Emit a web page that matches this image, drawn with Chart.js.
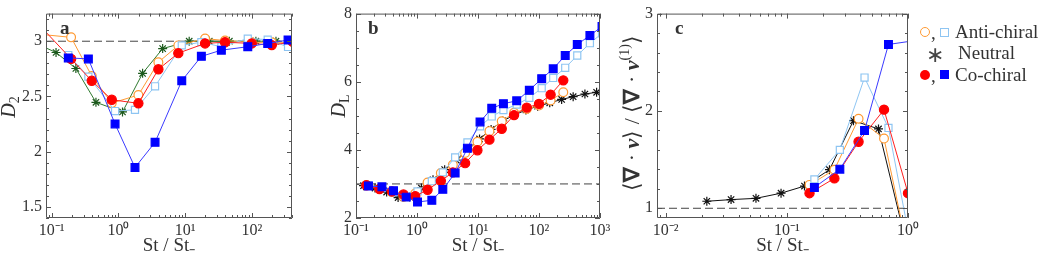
<!DOCTYPE html>
<html>
<head>
<meta charset="utf-8">
<script src="https://cdn.jsdelivr.net/npm/chart.js@4.4.0/dist/chart.umd.min.js"></script>
<style>
  html, body { margin: 0; padding: 0; background: #fff; }
  #wrap { position: relative; width: 1046px; height: 259px; overflow: hidden; }
  #wrap canvas { position: absolute; left: 0; top: 0; }
  .lg { position: absolute; font-family: 'Liberation Serif', serif; font-size: 19px; color: #333; line-height: 20px; white-space: nowrap; }
  .mk { position: absolute; box-sizing: border-box; }
</style>
</head>
<body>
<div id="wrap">
  <canvas id="chartA" width="1046" height="259"></canvas>
  <canvas id="chartB" width="1046" height="259"></canvas>
  <canvas id="chartC" width="1046" height="259"></canvas>

  <!-- legend -->
  <div class="mk" style="left:920px;top:27px;width:10px;height:10px;border:1.3px solid #ff9a33;border-radius:50%;"></div>
  <div class="lg" style="left:931px;top:23px;">,</div>
  <div class="mk" style="left:940px;top:28px;width:9px;height:9px;border:1.2px solid #8ec5f2;"></div>
  <div class="lg" style="left:955px;top:22px;">Anti-chiral</div>
  <div class="lg" style="left:926px;top:45px;font-size:22px;color:#444;">∗</div>
  <div class="lg" style="left:958px;top:43px;">Neutral</div>
  <div class="mk" style="left:920px;top:70px;width:10px;height:10px;background:#ff0000;border-radius:50%;"></div>
  <div class="lg" style="left:931px;top:66px;">,</div>
  <div class="mk" style="left:940px;top:70px;width:9px;height:9px;background:#0000ff;"></div>
  <div class="lg" style="left:955px;top:65px;">Co-chiral</div>
</div>
<script>
// ---- panel a : D2 ----
const aCircX = [0.05, 0.195, 0.398, 0.794, 1.99, 3.97, 7.9, 19.9, 39.6, 99.6, 199, 410];
const aCoCircY = [3.22, 2.84, 2.642, 2.47, 2.438, 2.746, 2.892, 2.98, 2.991, 2.98, 2.965, 2.994];
const aAntiCircY = [3.07, 3.035, 2.685, 2.44, 2.513, 2.81, 2.962, 3.024, 3.006, 2.99, 2.99, 2.99];
const aSqX = [0.177, 0.354, 0.89, 1.77, 3.54, 8.9, 17.5, 34.9, 86.9, 173, 349];
const aCoSqY = [2.849, 2.84, 2.251, 1.857, 2.085, 2.642, 2.863, 2.919, 2.95, 2.98, 3.011];
const aAntiSqY = [2.875, 2.68, 2.368, 2.379, 2.592, 2.962, 2.991, 2.95, 3.024, 3.015, 2.948];
const aStarX = [0.058, 0.116, 0.23, 0.46, 1.15, 2.3, 4.6, 11.5, 23, 46, 115, 230];
const aStarY = [2.98, 2.898, 2.753, 2.447, 2.36, 2.709, 2.933, 3.0, 3.0, 3.0, 3.0, 3.0];
const aXTicks = [0.1, 1, 10, 100];
const aYTicks = [1.5, 2, 2.5, 3];

// ---- panel b : DL ----
const bCircX = [0.148, 0.243, 0.388, 0.60, 0.935, 1.49, 2.46, 3.87, 6.15, 9.78, 15.4, 24.5, 39, 63, 100, 155, 250];
const bCoCircY = [2.96, 2.85, 2.78, 2.69, 2.64, 2.83, 3.09, 3.34, 3.61, 3.99, 4.30, 4.62, 5.02, 5.24, 5.35, 5.62, 6.04];
const bAntiCircY = [2.97, 2.86, 2.76, 2.62, 2.72, 3.04, 3.32, 3.56, 3.91, 4.24, 4.55, 4.84, 5.09, 5.2, 5.3, 5.45, 5.69];
const bSqX = [0.16, 0.266, 0.412, 0.665, 1.02, 1.75, 2.65, 4.22, 6.71, 10.8, 16.8, 26.1, 43.1, 69.4, 110.7, 171, 269, 424, 683, 1080];
const bCoSqY = [2.936, 2.916, 2.80, 2.613, 2.47, 2.52, 2.84, 3.32, 4.05, 4.82, 5.22, 5.355, 5.44, 5.75, 6.09, 6.38, 6.77, 7.09, 7.36, 7.62];
const bAntiSqY = [2.96, 2.88, 2.755, 2.63, 2.78, 3.08, 3.34, 3.78, 4.22, 4.69, 4.98, 5.17, 5.33, 5.53, 5.81, 6.11, 6.41, 6.77, 7.13, 7.42];
const bStarX = [0.133, 0.205, 0.318, 0.49, 0.76, 1.18, 1.83, 2.84, 4.4, 6.8, 10.6, 16.4, 25.4, 39.4, 61, 95, 150, 235, 363, 566, 880];
const bStarY = [2.95, 2.88, 2.76, 2.6, 2.62, 2.88, 3.12, 3.42, 3.7, 4.02, 4.32, 4.6, 4.85, 5.02, 5.17, 5.28, 5.38, 5.48, 5.56, 5.64, 5.69];
const bXTicks = [0.1, 1, 10, 100, 1000];
const bYTicks = [2, 4, 6, 8];

// ---- panel c : divergence ratio ----
const cCircX = [0.154, 0.247, 0.391, 0.634, 1.0];
const cCoCircY = [1.155, 1.307, 1.683, 2.013, 1.155];
const cAntiCircY = [1.24, 1.396, 1.92, 1.716, 0.55];
const cSqX = [0.169, 0.274, 0.438, 0.69, 1.1];
const cCoSqY = [1.214, 1.402, 1.80, 2.683, 2.72];
const cAntiSqY = [1.297, 1.60, 2.343, 1.825, 0.5];
const cStarX = [0.0219, 0.0347, 0.0557, 0.0897, 0.14, 0.225, 0.355, 0.571, 0.9];
const cStarY = [1.072, 1.089, 1.102, 1.155, 1.228, 1.396, 1.90, 1.815, 0.8];
const cXTicks = [0.01, 0.1, 1];
const cYTicks = [1, 2, 3];

const FONT = "'Liberation Serif', serif";
const SUP = { '-': '⁻', '0': '⁰', '1': '¹', '2': '²', '3': '³' };

function decadeLabel(v) {
    const e = Math.round(Math.log10(v));
    return '10' + String(e).split('').map(c => SUP[c]).join('');
}

function pts(xs, ys) {
    return xs.map((x, i) => ({ x, y: ys[i] }));
}

function series(xs, ys, style) {
    return Object.assign({ data: pts(xs, ys), borderWidth: 1, pointBorderWidth: 1.2, tension: 0, fill: false }, style);
}

const coSquare = { borderColor: '#3a3aff', pointBackgroundColor: '#0000ff', pointBorderColor: '#0000ff', pointStyle: 'rect', pointRadius: 5.5 };
const coCircle = { borderColor: '#ff2020', pointBackgroundColor: '#ff0000', pointBorderColor: '#ff0000', pointStyle: 'circle', pointRadius: 4.6 };
const antiSquare = { borderColor: '#8ec5f2', pointBackgroundColor: '#ffffff', pointBorderColor: '#8ec5f2', pointStyle: 'rect', pointRadius: 5 };
const antiCircle = { borderColor: '#ff9a33', pointBackgroundColor: '#ffffff', pointBorderColor: '#ff9a33', pointStyle: 'circle', pointRadius: 4.4 };

function starStyle(color) {
    return { borderColor: color, pointBorderColor: color, pointBackgroundColor: color, pointStyle: 'star', pointRadius: 4.5 };
}

// dashed reference line across the whole x range
function refLine(xmin, xmax, yv) {
    return { data: [{ x: xmin, y: yv }, { x: xmax, y: yv }], borderColor: '#444', borderWidth: 1, borderDash: [8, 4], pointRadius: 0 };
}

// frame, inward ticks, panel letter and y title
const frameTicks = {
    id: 'frameTicks',
    afterDatasetsDraw(chart, args, o) {
        const { ctx, chartArea: a } = chart;
        const xs = chart.scales.x, ys = chart.scales.y;
        ctx.save();
        ctx.strokeStyle = '#555';
        ctx.lineWidth = 1;
        ctx.beginPath();
        ctx.rect(a.left + 0.5, a.top + 0.5, a.right - a.left - 1, a.bottom - a.top - 1);

        const xTick = (v, len) => {
            const p = Math.round(xs.getPixelForValue(v)) + 0.5;
            ctx.moveTo(p, a.bottom); ctx.lineTo(p, a.bottom - len);
            ctx.moveTo(p, a.top); ctx.lineTo(p, a.top + len);
        };
        const yTick = (v, len) => {
            const p = Math.round(ys.getPixelForValue(v)) + 0.5;
            ctx.moveTo(a.left, p); ctx.lineTo(a.left + len, p);
            ctx.moveTo(a.right, p); ctx.lineTo(a.right - len, p);
        };
        const d0 = Math.floor(Math.log10(xs.min)), d1 = Math.ceil(Math.log10(xs.max));
        for (let d = d0; d <= d1; d++) {
            for (let m = 1; m <= 9; m++) {
                const v = m * Math.pow(10, d);
                if (v < xs.min || v > xs.max) continue;
                xTick(v, m === 1 ? 5 : 3);
            }
        }
        const n = Math.round((ys.max - ys.min) / o.yMinor);
        for (let i = 0; i <= n; i++) {
            const v = +(Math.ceil(ys.min / o.yMinor) * o.yMinor + i * o.yMinor).toFixed(4);
            if (v > ys.max + 1e-9) break;
            const major = o.yMajor.some(t => Math.abs(t - v) < 1e-6);
            yTick(v, major ? 5 : 3);
        }
        ctx.stroke();

        // panel letter
        ctx.fillStyle = '#333';
        ctx.font = 'bold 19px ' + FONT;
        ctx.textBaseline = 'alphabetic';
        ctx.fillText(o.letter, a.left + o.letterDx, a.top + 20);

        // rotated y title built from parts
        ctx.translate(o.titleX, o.titleY);
        ctx.rotate(-Math.PI / 2);
        ctx.textBaseline = 'middle';
        let total = 0;
        o.title.forEach(p => { ctx.font = p.f; total += ctx.measureText(p.t).width; });
        let x = -total / 2;
        o.title.forEach(p => {
            ctx.font = p.f;
            ctx.fillText(p.t, x, p.dy || 0);
            x += ctx.measureText(p.t).width;
        });
        ctx.restore();
    }
};

function makePanel(id, p) {
    const tickFont = { family: FONT, size: 16 };
    return new Chart(document.getElementById(id), {
        type: 'line',
        data: { datasets: p.datasets },
        plugins: [frameTicks],
        options: {
            responsive: false,
            animation: false,
            events: [],
            layout: { padding: { left: p.left - 40, right: 1046 - p.right, top: 7, bottom: 0 } },
            plugins: {
                legend: { display: false },
                tooltip: { enabled: false },
                frameTicks: p.frame
            },
            scales: {
                x: {
                    type: 'logarithmic',
                    min: p.xmin,
                    max: p.xmax,
                    grid: { display: false, drawTicks: false },
                    border: { display: false },
                    ticks: { font: tickFont, color: '#333', padding: 3, maxRotation: 0, autoSkip: false, callback: v => decadeLabel(v) },
                    afterBuildTicks: s => { s.ticks = p.xTicks.map(v => ({ value: v })); },
                    afterFit: s => { s.height = 41; },
                    title: { display: true, text: 'St / St₋', color: '#333', font: { family: FONT, size: 19 }, padding: { top: 0, bottom: 2 } }
                },
                y: {
                    min: p.ymin,
                    max: p.ymax,
                    grid: { display: false, drawTicks: false },
                    border: { display: false },
                    ticks: { font: tickFont, color: '#333', padding: 4, autoSkip: false, callback: v => String(v) },
                    afterBuildTicks: s => { s.ticks = p.yTicks.map(v => ({ value: v })); },
                    afterFit: s => { s.width = 40; }
                }
            }
        }
    });
}

const italic = 'italic 20px ' + FONT;
const subF = '14px ' + FONT;

makePanel('chartA', {
    left: 46, right: 292, xmin: 0.082, xmax: 400, ymin: 1.4, ymax: 3.25,
    xTicks: aXTicks, yTicks: aYTicks,
    datasets: [
        series(aSqX, aCoSqY, coSquare),
        series(aCircX, aCoCircY, coCircle),
        series(aSqX, aAntiSqY, antiSquare),
        series(aCircX, aAntiCircY, antiCircle),
        series(aStarX, aStarY, Object.assign(starStyle('#1d5a1d'), { borderColor: '#2f7a2f' })),
        refLine(0.082, 400, 3)
    ],
    frame: {
        yMinor: 0.1, yMajor: aYTicks, letter: 'a', letterDx: 14, titleX: 10, titleY: 107,
        title: [{ t: 'D', f: italic }, { t: '2', f: subF, dy: 5 }]
    }
});

makePanel('chartB', {
    left: 356, right: 600, xmin: 0.1, xmax: 1000, ymin: 2, ymax: 8,
    xTicks: bXTicks, yTicks: bYTicks,
    datasets: [
        series(bSqX, bCoSqY, coSquare),
        series(bCircX, bCoCircY, coCircle),
        series(bSqX, bAntiSqY, antiSquare),
        series(bCircX, bAntiCircY, antiCircle),
        series(bStarX, bStarY, starStyle('#111')),
        refLine(0.1, 1000, 3)
    ],
    frame: {
        yMinor: 0.5, yMajor: bYTicks, letter: 'b', letterDx: 12, titleX: 340, titleY: 106,
        title: [{ t: 'D', f: italic }, { t: 'L', f: subF, dy: 5 }]
    }
});

const cR = '22px ' + FONT;
const cB = 'bold 22px ' + FONT;
const cBI = 'bold italic 22px ' + FONT;
makePanel('chartC', {
    left: 657, right: 908, xmin: 0.0085, xmax: 1.0, ymin: 0.9, ymax: 3,
    xTicks: cXTicks, yTicks: cYTicks,
    datasets: [
        series(cSqX, cCoSqY, coSquare),
        series(cCircX, cCoCircY, coCircle),
        series(cSqX, cAntiSqY, antiSquare),
        series(cCircX, cAntiCircY, antiCircle),
        series(cStarX, cStarY, starStyle('#111')),
        refLine(0.0085, 1.0, 1)
    ],
    frame: {
        yMinor: 0.2, yMajor: cYTicks, letter: 'c', letterDx: 18, titleX: 633, titleY: 113,
        title: [
            { t: '⟨', f: cR }, { t: '∇', f: cB }, { t: ' · ', f: cR }, { t: 'v', f: cBI }, { t: '⟩', f: cR },
            { t: ' / ', f: cR },
            { t: '⟨', f: cR }, { t: '∇', f: cB }, { t: ' · ', f: cR }, { t: 'v', f: cBI },
            { t: '(1)', f: subF, dy: -8 }, { t: '⟩', f: cR }
        ]
    }
});
</script>
</body>
</html>
